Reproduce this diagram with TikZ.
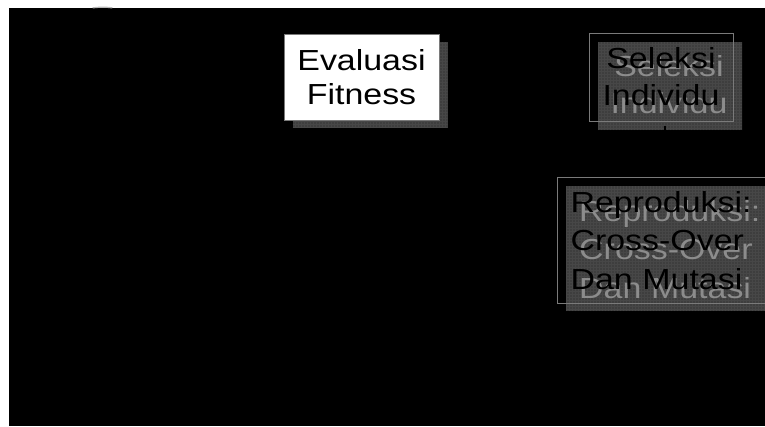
\documentclass[tikz,border=0pt]{standalone}
\usepackage{fontspec}
\setmainfont{Liberation Sans}[FakeStretch=1.17]
\definecolor{shadowcol}{HTML}{3E3E3E}
\definecolor{gridcol}{HTML}{474747}
\definecolor{edgecol}{HTML}{7A7A7A}
\definecolor{ghostcol}{HTML}{8C8C8C}
\tikzset{
  shadowbox/.style={fill=shadowcol, inner sep=0pt,
    path picture={\draw[gridcol, line width=0.35pt]
      (path picture bounding box.south west) grid[step=3pt]
      (path picture bounding box.north east);}},
  boxedge/.style={draw=edgecol, line width=1pt},
  txtA/.style={font=\fontsize{29}{34}\selectfont, text=black},
  txtB/.style={font=\fontsize{29}{37}\selectfont, text=black},
  txtC/.style={font=\fontsize{29}{38.5}\selectfont, text=black},
  ghost/.style={text=ghostcol},
  conn/.style={draw=black, line width=1.5pt}
}
\begin{document}
\begin{tikzpicture}[x=1pt,y=-1pt]
\useasboundingbox (0,0) rectangle (765,426);
\clip (0,0) rectangle (765,426);
\fill[white] (0,0) rectangle (765,426);
\fill[black] (9,8) rectangle (765,426);
\draw[gray!55, line width=1.2pt, line cap=round] (93,7.8) .. controls (100,7) and (106,7) .. (112,7.8);

% Evaluasi Fitness
\node[shadowbox, minimum width=155pt, minimum height=86pt] (evalsh) at (370,85) {};
\node[boxedge, fill=white, minimum width=155pt, minimum height=86pt, txtA, align=center] (eval) at (361.5,77) {Evaluasi\\Fitness};

% Seleksi Individu
\node[shadowbox, minimum width=144pt, minimum height=88pt] (selsh) at (670,86) {};
\node[txtB, ghost, align=center] (selghost) at (669,85) {Seleksi\\Individu};
\node[boxedge, minimum width=144pt, minimum height=88pt, txtB, align=center] (sel) at (661,77) {Seleksi\\Individu};

% Reproduksi
\node[shadowbox, minimum width=246pt, minimum height=125pt, anchor=north west] (reprosh) at (566,186) {};
\node[txtC, ghost, minimum height=126pt, anchor=north west, inner xsep=13pt, inner ysep=0pt, text width=220pt, align=left] (reproghost) at (566,186) {Reproduksi:\\Cross-Over\\Dan Mutasi};
\node[boxedge, txtC, minimum height=126pt, anchor=north west, inner xsep=13pt, inner ysep=0pt, text width=220pt, align=left] (repro) at (557,177) {Reproduksi:\\Cross-Over\\Dan Mutasi};

% connector (black on black)
\coordinate (c1) at ([xshift=4pt,yshift=-4pt]sel.south);
\draw[conn] (c1) -- (c1 |- repro.north);
\end{tikzpicture}
\end{document}
